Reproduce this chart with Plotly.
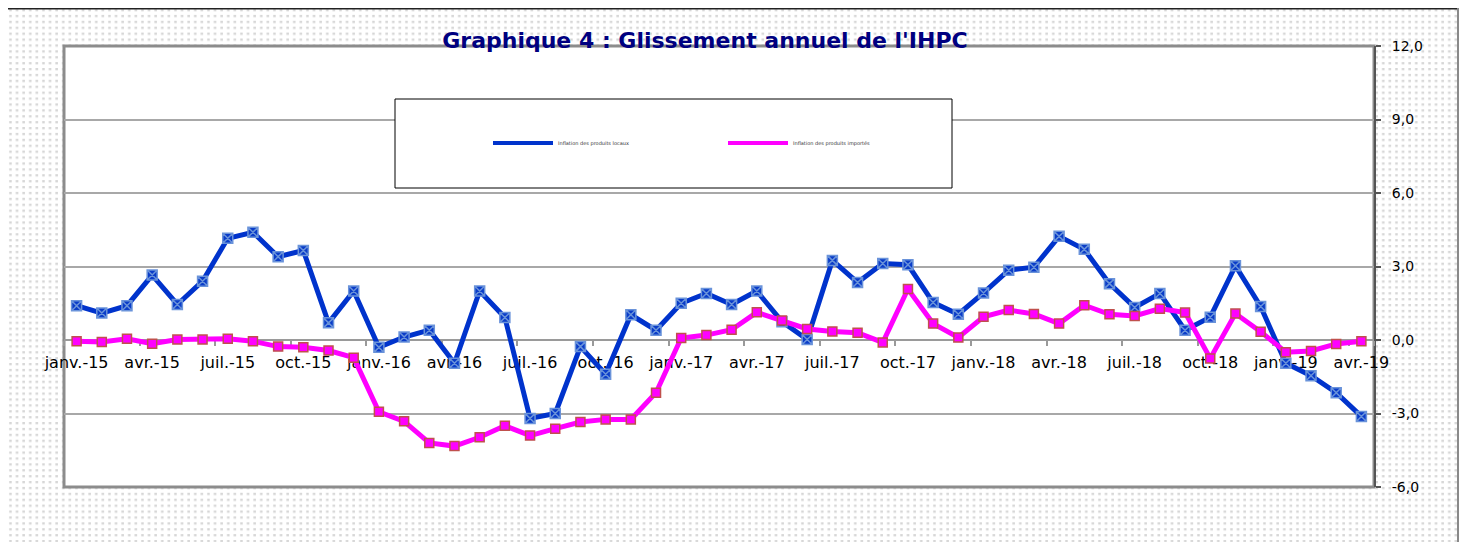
import base64
import plotly.graph_objects as go

# ---------------- data ----------------
categories = [
    "janv.-15", "févr.-15", "mars-15", "avr.-15", "mai-15", "juin-15",
    "juil.-15", "août-15", "sept.-15", "oct.-15", "nov.-15", "déc.-15",
    "janv.-16", "févr.-16", "mars-16", "avr.-16", "mai-16", "juin-16",
    "juil.-16", "août-16", "sept.-16", "oct.-16", "nov.-16", "déc.-16",
    "janv.-17", "févr.-17", "mars-17", "avr.-17", "mai-17", "juin-17",
    "juil.-17", "août-17", "sept.-17", "oct.-17", "nov.-17", "déc.-17",
    "janv.-18", "févr.-18", "mars-18", "avr.-18", "mai-18", "juin-18",
    "juil.-18", "août-18", "sept.-18", "oct.-18", "nov.-18", "déc.-18",
    "janv.-19", "févr.-19", "mars-19", "avr.-19",
]

local_inflation = [
    1.40, 1.10, 1.40, 2.65, 1.45, 2.40, 4.15, 4.40, 3.40, 3.65, 0.70, 2.00,
    -0.30, 0.12, 0.40, -0.95, 2.00, 0.92, -3.20, -3.00, -0.27, -1.40, 1.03, 0.40,
    1.50, 1.90, 1.45, 2.00, 0.75, 0.02, 3.25, 2.35, 3.12, 3.07, 1.53, 1.05,
    1.92, 2.85, 2.97, 4.23, 3.70, 2.30, 1.33, 1.90, 0.40, 0.93, 3.03, 1.37,
    -0.95, -1.46, -2.15, -3.12,
]

imported_inflation = [
    -0.05, -0.08, 0.05, -0.15, 0.02, 0.02, 0.05, -0.05, -0.27, -0.30, -0.43, -0.72,
    -2.93, -3.32, -4.20, -4.33, -3.97, -3.50, -3.90, -3.62, -3.35, -3.24, -3.24, -2.15,
    0.08, 0.20, 0.42, 1.13, 0.80, 0.45, 0.35, 0.30, -0.10, 2.08, 0.67, 0.10,
    0.95, 1.22, 1.06, 0.67, 1.42, 1.05, 0.98, 1.28, 1.12, -0.75, 1.08, 0.34,
    -0.50, -0.45, -0.16, -0.05,
]

x_tick_labels = categories[::3]
y_tick_values = [-6, -3, 0, 3, 6, 9, 12]
y_tick_labels = ["-6,0", "-3,0", "0,0", "3,0", "6,0", "9,0", "12,0"]

series_names = ["Inflation des produits locaux", "Inflation des produits importés"]
series_colors = ["#0033CC", "#FF00FF"]
title_text = "Graphique 4 : Glissement annuel de l'IHPC"

# ---------------- layout geometry ----------------
# The page body has an 8px margin, so window pixel = figure pixel + 8.
OFF = 8
WIN_W, WIN_H = 1467, 542
W, H = WIN_W - OFF, WIN_H - OFF
PLOT_L, PLOT_R, PLOT_T, PLOT_B = 64, 1374, 46, 487      # window pixels
ML, MT = PLOT_L - OFF, PLOT_T - OFF
MR, MB = W - (PLOT_R - OFF), H - (PLOT_B - OFF)
PW, PH = PLOT_R - PLOT_L, PLOT_B - PLOT_T


def fx(px):
    """window pixel x -> paper coordinate"""
    return (px - PLOT_L) / PW


def fy(py):
    """window pixel y -> paper coordinate"""
    return (PLOT_B - py) / PH


# dotted background pattern (chart area) with white plot area, in figure pixels
svg = f"""<svg xmlns="http://www.w3.org/2000/svg" width="{W}" height="{H}" viewBox="0 0 {W} {H}">
<defs><pattern id="p" x="0" y="0" width="6.6" height="5.9" patternUnits="userSpaceOnUse">
<rect width="6.6" height="5.9" fill="#ffffff"/>
<rect x="1.2" y="1.0" width="2.5" height="2.3" fill="#d6d6d6"/></pattern></defs>
<rect x="0" y="0" width="{W}" height="{H}" fill="#ffffff"/>
<rect x="0" y="0" width="{1458 - OFF}" height="{H}" fill="url(#p)"/>
<rect x="{ML}" y="{MT}" width="{PW}" height="{PH}" fill="#ffffff"/>
</svg>"""
svg_uri = "data:image/svg+xml;base64," + base64.b64encode(svg.encode()).decode()

fig = go.Figure()

fig.add_trace(go.Scatter(
    x=categories, y=local_inflation, name=series_names[0], mode="lines+markers",
    line=dict(color=series_colors[0], width=5),
    marker=dict(symbol="square-x", size=10, color="#0A3CC8",
                line=dict(color="#6A93DA", width=1.5)),
    showlegend=False,
))
fig.add_trace(go.Scatter(
    x=categories, y=imported_inflation, name=series_names[1], mode="lines+markers",
    line=dict(color=series_colors[1], width=5),
    marker=dict(symbol="square", size=9, color="#FF00FF",
                line=dict(color="#C0504D", width=1.5)),
    showlegend=False,
))
# legend entries (line only, as in the reference legend)
for name, color in zip(series_names, series_colors):
    fig.add_trace(go.Scatter(x=[None], y=[None], name=name, mode="lines",
                             line=dict(color=color, width=4), showlegend=True))

shapes = [
    # chart area frame
    dict(type="line", xref="paper", yref="paper", x0=fx(4), x1=fx(1458), y0=fy(8.5), y1=fy(8.5),
         line=dict(color="#222222", width=2), layer="below"),
    dict(type="line", xref="paper", yref="paper", x0=fx(1458), x1=fx(1458), y0=fy(8), y1=fy(542),
         line=dict(color="#8a8a8a", width=2), layer="below"),
    # plot area border
    dict(type="rect", xref="paper", yref="paper", x0=0, x1=1, y0=0, y1=1,
         line=dict(color="#8c8c8c", width=3), layer="below"),
    # legend box
    dict(type="rect", xref="paper", yref="paper", x0=fx(395), x1=fx(952), y0=fy(188), y1=fy(99),
         line=dict(color="#000000", width=1), fillcolor="#ffffff", layer="above"),
]

fig.update_layout(
    width=W, height=H,
    margin=dict(l=ML, r=MR, t=MT, b=MB, autoexpand=False),
    paper_bgcolor="#ffffff",
    plot_bgcolor="rgba(0,0,0,0)",
    font=dict(family="DejaVu Sans", color="#000000"),
    title=dict(text="<b>" + title_text + "</b>", x=(705 - OFF) / W, xref="container",
               xanchor="center", y=1 - (40 - OFF) / H, yref="container", yanchor="middle",
               font=dict(family="DejaVu Sans", size=22, color="#000080")),
    images=[dict(source=svg_uri, xref="paper", yref="paper", x=fx(OFF), y=fy(OFF),
                 sizex=W / PW, sizey=H / PH, xanchor="left", yanchor="top",
                 sizing="stretch", layer="below")],
    shapes=shapes,
    showlegend=True,
    legend=dict(orientation="h", x=fx(488), xanchor="left", y=fy(143), yanchor="middle",
                bgcolor="rgba(0,0,0,0)", borderwidth=0, itemwidth=60,
                font=dict(family="DejaVu Sans", size=5, color="#333333"),
                entrywidth=160, entrywidthmode="pixels"),
    xaxis=dict(
        type="category", categoryorder="array", categoryarray=categories,
        range=[-0.5, len(categories) - 0.5],
        anchor="free", position=1 / 3,
        showline=True, linecolor="#9a9a9a", linewidth=2,
        ticks="outside", ticklen=5, tickcolor="#9a9a9a", tickwidth=1.5,
        tickson="boundaries",
        tickmode="array", tickvals=x_tick_labels, ticktext=x_tick_labels,
        tickangle=0,
        tickfont=dict(family="DejaVu Sans", size=16, color="#000000"),
        ticklabelstandoff=8,
        showgrid=False, zeroline=False, layer="below traces",
    ),
    yaxis=dict(
        range=[-6, 12], side="right",
        showline=True, linecolor="#555555", linewidth=2,
        ticks="outside", ticklen=5, tickcolor="#555555", tickwidth=1.5,
        tickmode="array", tickvals=y_tick_values, ticktext=y_tick_labels,
        tickfont=dict(family="DejaVu Sans", size=14, color="#000000"),
        ticklabelstandoff=8,
        showgrid=True, gridcolor="#a8a8a8", gridwidth=1.5,
        zeroline=False, layer="below traces",
    ),
)

fig.write_html("out.html")
